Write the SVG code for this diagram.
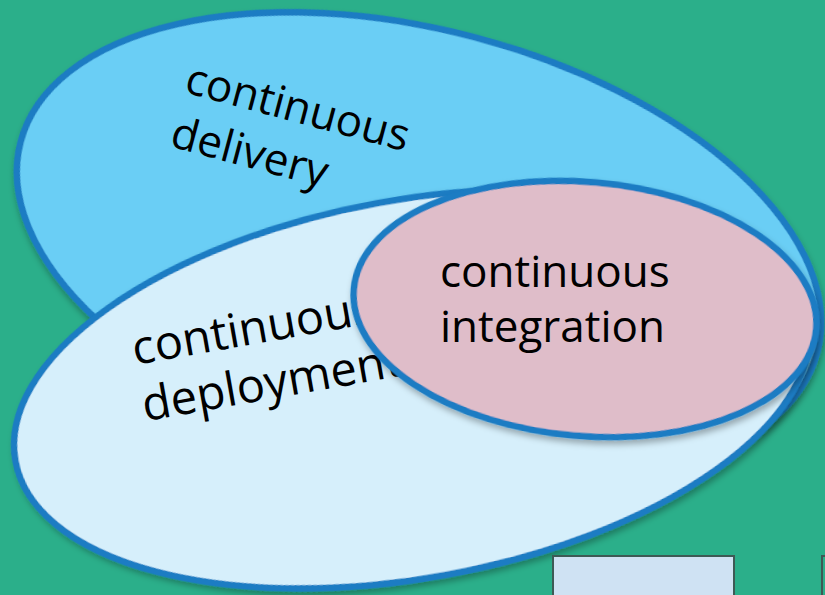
<svg xmlns="http://www.w3.org/2000/svg" width="825" height="595" viewBox="0 0 825 595">
<defs>
<filter id="sh" x="-10%" y="-10%" width="120%" height="125%">
<feDropShadow dx="2" dy="4" stdDeviation="3" flood-color="#000" flood-opacity="0.3"/>
</filter>
</defs>
<style>
.ell{stroke:#1A7CC3;stroke-width:6.5}
.t{font-family:"Open Sans","Noto Sans","Liberation Sans",sans-serif;font-size:44px;fill:#000}
.box{fill:#CFE2F3;stroke:#3E5A55;stroke-width:2}
</style>
<rect x="0" y="0" width="825" height="595" fill="#2BAF8A"/>
<g id="delivery">
<ellipse class="ell" cx="419" cy="247" rx="412" ry="217" transform="rotate(14.8 419 247)" fill="#6BCEF5" filter="url(#sh)"/>
<text class="t" transform="translate(183 92) rotate(15)"><tspan x="0" y="0">continuous</tspan><tspan x="0" y="56">delivery</tspan></text>
</g>
<g id="deployment">
<ellipse class="ell" cx="412" cy="389" rx="403" ry="189" transform="rotate(-10.3 412 389)" fill="#D6EFFB" filter="url(#sh)"/>
<text class="t" style="font-size:47px" transform="translate(135 365) rotate(-10)"><tspan x="0" y="0">continuous</tspan><tspan x="0" y="57">deployment</tspan></text>
</g>
<g id="integration">
<ellipse class="ell" cx="585" cy="309" rx="232" ry="127" transform="rotate(5 585 309)" fill="#DFBDC9" filter="url(#sh)"/>
<text class="t" x="440" y="287">continuous</text>
<text class="t" x="440" y="342">integration</text>
</g>
<g id="boxes">
<rect class="box" x="553" y="556" width="181" height="60"/>
<rect class="box" x="822" y="556" width="60" height="60" style="fill:#2BAF8A"/>
</g>
<g id="connectors"></g>
</svg>
